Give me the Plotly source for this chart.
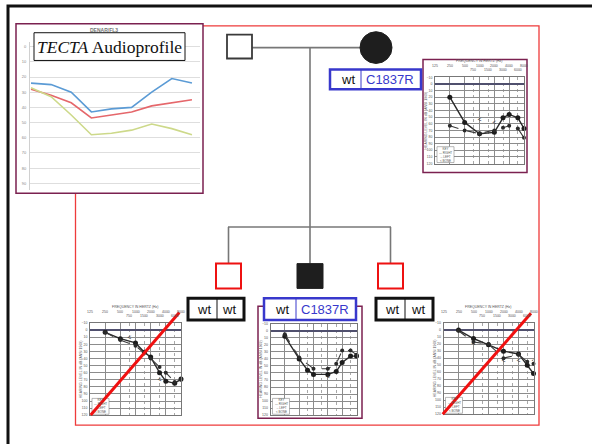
import numpy as np
import plotly.graph_objects as go

W, H = 592, 444

# ---------------- data ----------------
# TECTA audioprofile (mean thresholds, dB HL)
profile_freqs = ["250", "500", "1000", "1500", "2000", "3000", "4000", "6000", "8000"]
profile_blue = [24, 25, 30, 43, 41, 40, 30, 21, 24]
profile_red = [28, 32, 37, 47, 45, 43, 39, 37, 35]
profile_green = [27, 33, 45, 58, 57, 55, 51, 54, 58]
profile_db_ticks = [0, 10, 20, 30, 40, 50, 60, 70, 80, 90]

# audiogram grid
freq_major = [125, 250, 500, 1000, 2000, 4000, 8000]
freq_minor = [750, 1500, 3000, 6000]
db_ticks = list(range(-10, 121, 10))

# mother (C1837R carrier)
mother_f = [250, 500, 1000, 2000, 3000, 4000, 6000, 8000]
mother_right = [20, 58, 75, 73, 51, 46, 51, 67]
mother_left = [63, 70, 75, 70, 66, 63, 67, 81]
mother_bone_f = [1000, 2000]
mother_bone = [55, 60]

# first son (wt/wt)
son1_f = [250, 500, 1000, 1500, 2000, 3000, 4000, 6000, 8000]
son1_right = [3, 12, 18, 31, 38, 60, 72, 75, 69]
son1_left_f = [250, 500, 1000, 2000, 3000, 4000, 6000, 8000]
son1_left = [3, 14, 22, 40, 52, 60, 73, 70]
son1_bone_f = [750, 3000]
son1_bone = [12, 70]

# second son (C1837R carrier)
son2_f = [250, 500, 750, 1000, 2000, 3000, 4000, 6000, 8000]
son2_right = [8, 40, 56, 62, 62, 58, 45, 36, 36]
son2_left_f = [250, 500, 1000, 2000, 3000, 4000, 6000, 8000]
son2_left = [5, 38, 54, 54, 47, 28, 28, 34]
son2_bone_f = [2000]
son2_bone = [66]

# third son (wt/wt)
son3_f = [250, 500, 1000, 2000, 4000, 6000, 8000]
son3_right = [0, 12, 21, 30, 34, 50, 62]
son3_left_f = [250, 500, 1000, 2000, 4000, 6000, 8000]
son3_left = [1, 17, 20, 40, 35, 45, 48]
son3_bone_f = [500, 2000, 4000, 8000]
son3_bone = [20, 45, 45, 44]

genotype_labels = ["wt", "C1837R"]
wt_labels = ["wt", "wt"]


def px(x):
    return x / W


def py(y):
    return 1 - y / H


def rect(x0, y0, x1, y1, **kw):
    return dict(type="rect", xref="paper", yref="paper",
                x0=px(x0), x1=px(x1), y0=py(y1), y1=py(y0), **kw)


def seg(x0, y0, x1, y1, color, width, layer="above"):
    return dict(type="line", xref="paper", yref="paper",
                x0=px(x0), x1=px(x1), y0=py(y0), y1=py(y1),
                line=dict(color=color, width=width), layer=layer)


def label(x, y, text, size, color, family="Liberation Sans", xref="paper", **kw):
    return dict(xref=xref, yref="paper", x=x, y=y, text=text, showarrow=False,
                xanchor="center", yanchor="middle",
                font=dict(size=size, color=color, family=family), **kw)


fig = go.Figure()
shapes = []
annotations = []
TINY = "Liberation Sans"

# ---------------- outer frame and panels ----------------
shapes.append(rect(8, 4, 640, 490, line=dict(color="#111", width=3), layer="below"))
shapes.append(rect(75.5, 24, 539, 427, line=dict(color="#ee3b3b", width=1.3), layer="below"))
shapes.append(rect(16, 22, 203, 193, fillcolor="white",
                   line=dict(color="#7b2150", width=1.5), layer="below"))
shapes.append(rect(423, 58, 527, 172, fillcolor="white",
                   line=dict(color="#7b2150", width=1.5), layer="below"))
shapes.append(rect(258, 307, 362, 420, fillcolor="white",
                   line=dict(color="#7b2150", width=1.5), layer="below"))

# ---------------- audioprofile inset ----------------
for vals, col in [(profile_blue, "#5b9bd5"), (profile_red, "#e5676b"),
                  (profile_green, "#cdd98a")]:
    fig.add_trace(go.Scatter(x=profile_freqs, y=vals, mode="lines",
                             line=dict(color=col, width=1.6),
                             xaxis="x", yaxis="y", showlegend=False, hoverinfo="skip"))

fig.update_layout(
    xaxis=dict(domain=[px(30), px(200)], type="category", range=[-0.05, 8.4],
               showgrid=False, showticklabels=False, zeroline=False, showline=False,
               fixedrange=True),
    yaxis=dict(domain=[py(190), py(40)], range=[94.6, -3.3], tickvals=profile_db_ticks,
               tickfont=dict(size=4, color="#888", family=TINY), showgrid=True,
               gridcolor="#dedede", gridwidth=1, zeroline=False, showline=True,
               linecolor="#d0d0d0", ticks="", ticklabelstandoff=2, fixedrange=True),
)
annotations.append(label(px(104), py(28.5), "<b>DENAR/FL3</b>", 5, "#777"))
shapes.append(rect(34, 31, 185, 59, fillcolor="white", line=dict(color="#111", width=1),
                   layer="above"))
annotations.append(label(px(109.5), py(45.5), "<i>TECTA</i> Audioprofile", 17.5, "#111",
                         family="Liberation Serif, Times New Roman, serif"))

# ---------------- audiograms ----------------
def add_audiogram(n, gx0, gy0, gx1, gy1, f_r, db_r, f_l, db_l, f_b, db_b, header=True):
    xa, ya = f"x{n}", f"y{n}"
    fig.update_layout(**{
        f"xaxis{n}": dict(domain=[px(gx0), px(gx1)], type="log",
                          range=[np.log10(125), np.log10(8000)], tickvals=freq_major,
                          showticklabels=False, ticks="", showgrid=True,
                          gridcolor="#8c8c8c", gridwidth=0.7,
                          minor=dict(tickvals=freq_minor, showgrid=True, gridcolor="#a8a8a8",
                                     gridwidth=0.6, griddash="dot"),
                          zeroline=False, showline=True, linecolor="#777", linewidth=0.8,
                          mirror=True, anchor=ya, fixedrange=True),
        f"yaxis{n}": dict(domain=[py(gy1), py(gy0)], range=[120, -10], tickvals=db_ticks,
                          tickfont=dict(size=3.5, color="#555", family=TINY), ticks="",
                          ticklabelstandoff=1, showgrid=True, gridcolor="#8c8c8c",
                          gridwidth=0.7, zeroline=True, zerolinecolor="#50506e",
                          zerolinewidth=1.5, showline=True, linecolor="#777", linewidth=0.8,
                          mirror=True, anchor=xa, fixedrange=True),
    })
    fig.add_trace(go.Scatter(x=f_r, y=db_r, mode="lines+markers", xaxis=xa, yaxis=ya,
                             line=dict(color="#2a2a2a", width=1.4),
                             marker=dict(size=5, color="#1c1c1c"),
                             showlegend=False, hoverinfo="skip", cliponaxis=False))
    fig.add_trace(go.Scatter(x=f_l, y=db_l, mode="lines+markers", xaxis=xa, yaxis=ya,
                             line=dict(color="#3a3a3a", width=1.1, dash="dash"),
                             marker=dict(size=4, color="#2a2a2a"),
                             showlegend=False, hoverinfo="skip", cliponaxis=False))
    fig.add_trace(go.Scatter(x=f_b, y=db_b, mode="text", text=["<"] * len(f_b),
                             xaxis=xa, yaxis=ya, textfont=dict(size=7, color="#333"),
                             showlegend=False, hoverinfo="skip"))
    # frequency header (hidden under the genotype box on the middle panel)
    if header:
        annotations.append(label(px((gx0 + gx1) / 2), py(gy0 - 16), "FREQUENCY IN HERTZ (Hz)",
                                 3.5, "#555"))
        for f in freq_major:
            annotations.append(label(np.log10(f), py(gy0 - 11), str(f), 3.5, "#555", xref=xa))
        for f in freq_minor:
            annotations.append(label(np.log10(f), py(gy0 - 7), str(f), 3.5, "#555", xref=xa))
    annotations.append(label(px(gx0 - 9), py((gy0 + gy1) / 2),
                             "HEARING LEVEL IN dB (ANSI 1969)", 3.5, "#555", textangle=-90))
    # key box
    shapes.append(rect(gx0 + 2, gy1 - 17, gx0 + 19, gy1 - 1, fillcolor="white",
                       line=dict(color="#888", width=0.6), layer="above"))
    annotations.append(label(px(gx0 + 10.5), py(gy1 - 9),
                             "KEY<br>— RIGHT<br>-- LEFT<br>&lt; BONE", 3, "#555"))


add_audiogram(2, 435, 76, 524, 163, mother_f, mother_right, mother_f, mother_left,
              mother_bone_f, mother_bone)
add_audiogram(3, 90, 324, 181, 417, son1_f, son1_right, son1_left_f, son1_left,
              son1_bone_f, son1_bone)
add_audiogram(4, 270.5, 324.6, 356.5, 417, son2_f, son2_right, son2_left_f, son2_left,
              son2_bone_f, son2_bone, header=False)
add_audiogram(5, 443.5, 324, 533.5, 416, son3_f, son3_right, son3_left_f, son3_left,
              son3_bone_f, son3_bone)

# strike-through on the non-carrier audiograms
shapes.append(seg(90.7, 416.7, 179.3, 313.3, "#f01010", 3))
shapes.append(seg(442.7, 416, 531, 314, "#f01010", 3))

# ---------------- pedigree ----------------
LINE = "#777"
shapes.append(seg(252, 46, 360, 46, LINE, 1.6))
shapes.append(seg(310, 46, 310, 227, LINE, 1.6))
shapes.append(seg(228, 227, 391, 227, LINE, 1.6))
for cx in (228.5, 310, 390.5):
    shapes.append(seg(cx, 227, cx, 264, LINE, 1.6))

shapes.append(rect(227, 33, 252, 57, fillcolor="white", line=dict(color="#3a3a3a", width=1.8),
                   layer="above"))
shapes.append(dict(type="circle", xref="paper", yref="paper", x0=px(360), x1=px(392),
                   y0=py(62), y1=py(30), fillcolor="#1e1e1e",
                   line=dict(color="#1e1e1e", width=1), layer="above"))
shapes.append(rect(216, 264, 241, 289, fillcolor="white", line=dict(color="#ee1111", width=2),
                   layer="above"))
shapes.append(rect(297, 264, 323, 289, fillcolor="#1e1e1e", line=dict(color="#1e1e1e", width=1),
                   layer="above"))
shapes.append(rect(378, 264, 403, 289, fillcolor="white", line=dict(color="#ee1111", width=2),
                   layer="above"))

# ---------------- genotype boxes ----------------
BLUE = "#3838cc"


def genotype_box(x0, xm, x1, y0, y1, color, width, labels, colors, centers):
    shapes.append(rect(x0, y0, x1, y1, fillcolor="white", line=dict(color=color, width=width),
                       layer="above"))
    shapes.append(seg(xm, y0, xm, y1, color, 1))
    for lab, col, cx in zip(labels, colors, centers):
        annotations.append(label(px(cx), py((y0 + y1) / 2), lab, 13, col,
                                 family="Liberation Sans, Arial, sans-serif"))


genotype_box(330, 361, 421, 68, 88, BLUE, 2.5, genotype_labels, ["#111", BLUE], [348, 389.5])
genotype_box(188, 217, 244, 299, 321, "#111", 3, wt_labels, ["#111", "#111"], [204, 229])
genotype_box(264, 296, 356, 299, 321, BLUE, 2.5, genotype_labels, ["#111", BLUE], [282, 325])
genotype_box(376, 405, 433, 299, 321, "#111", 3, wt_labels, ["#111", "#111"], [392, 418])

fig.update_layout(
    width=W, height=H, margin=dict(l=0, r=0, t=0, b=0),
    paper_bgcolor="white", plot_bgcolor="rgba(0,0,0,0)",
    showlegend=False, shapes=shapes, annotations=annotations,
)

fig.write_html("out.html")
